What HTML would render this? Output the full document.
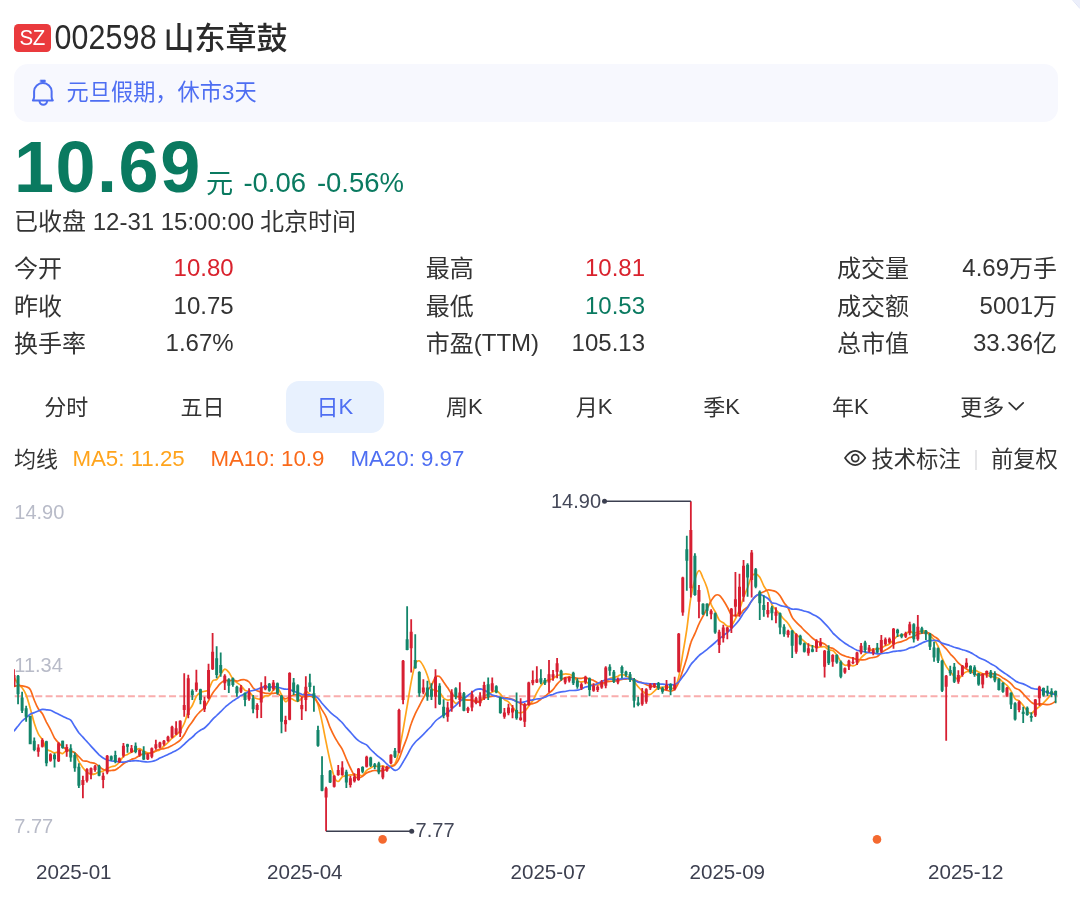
<!DOCTYPE html>
<html lang="zh-CN"><head><meta charset="utf-8"><title>002598 山东章鼓</title>
<style>
html,body{margin:0;padding:0;background:#fff}
body{width:1080px;height:912px;position:relative;overflow:hidden;font-family:"Liberation Sans", "Noto Sans CJK SC", sans-serif;-webkit-font-smoothing:antialiased}
#app{position:absolute;left:0;top:0;width:1080px;height:912px;will-change:transform}
.t{position:absolute;white-space:nowrap;font-family:"Liberation Sans", "Noto Sans CJK SC", sans-serif}
.abs{position:absolute;display:block}
.badge{position:absolute;left:14px;top:24px;width:36.6px;height:27.5px;border-radius:4.5px;background:#ea3a3d;color:#fff;font-size:20.5px;line-height:27.5px;text-align:center;letter-spacing:-0.2px}
.badge span{display:inline-block;transform:translateY(-0.9px) scaleY(1.09)}
.notice{position:absolute;left:14px;top:63.5px;width:1043.5px;height:58px;border-radius:14px;background:#f7f8fe}
.pill{position:absolute;left:286.2px;top:381.2px;width:97.6px;height:51.4px;border-radius:13px;background:#e8f1fe}
.sep{position:absolute;left:975px;top:449.5px;width:1.5px;height:20px;background:#e6e6e8}
</style></head>
<body>
<div id="app">
<div class="badge"><span>SZ</span></div>
<div class="t" style="left:54.40px;top:22.52px;font-size:30.4px;line-height:30.4px;color:#2b2b2b;letter-spacing:0.15px;transform:scaleY(1.15);transform-origin:0 84.65%;">002598</div>
<div class="t" style="left:163.60px;top:22.60px;font-size:31px;line-height:31px;color:#2b2b2b;font-weight:500;">山东章鼓</div>
<div class="notice"></div>
<svg class="abs" style="left:24px;top:72px" width="40" height="40" viewBox="24 72 40 40" fill="none" stroke="#4e6ef2" stroke-width="2" stroke-linecap="round" stroke-linejoin="round">
<path d="M32.9 100.5 C33.5 99.5 34.1 98.5 34.1 97 L34.1 91.3 A8.77 8.55 0 0 1 51.63 91.3 L51.63 97 C51.63 98.5 52.2 99.5 52.83 100.5 Z"/>
<rect x="40.6" y="80" width="4.7" height="2.2" fill="#4e6ef2" stroke-width="0.6"/>
<path d="M39.57 101.3 A3.73 3.4 0 0 0 47.03 101.3"/>
</svg>
<div class="t" style="left:66.60px;top:82.34px;font-size:22.2px;line-height:22.2px;color:#4e6ef2;">元旦假期，休市</div>
<div class="t" style="left:222.00px;top:82.41px;font-size:22.2px;line-height:22.2px;color:#4e6ef2;">3</div>
<div class="t" style="left:234.60px;top:82.34px;font-size:22.2px;line-height:22.2px;color:#4e6ef2;">天</div>
<div class="t" style="left:14.00px;top:131.05px;font-size:72px;line-height:72px;color:#0a7a60;font-weight:bold;letter-spacing:1.5px;">10.69</div>
<div class="t" style="left:205.90px;top:169.91px;font-size:27.2px;line-height:27.2px;color:#0a7a60;">元</div>
<div class="t" style="left:243.40px;top:169.12px;font-size:27.5px;line-height:27.5px;color:#0a7a60;">-0.06</div>
<div class="t" style="left:316.90px;top:169.12px;font-size:27.5px;line-height:27.5px;color:#0a7a60;">-0.56%</div>
<div class="t" style="left:14.00px;top:210.40px;font-size:24px;line-height:24px;color:#333333;">已收盘</div>
<div class="t" style="left:92.70px;top:209.88px;font-size:24px;line-height:24px;color:#333333;">12-31 15:00:00</div>
<div class="t" style="left:260.00px;top:210.40px;font-size:24px;line-height:24px;color:#333333;">北京时间</div>
<div class="t" style="left:14.00px;top:257.10px;font-size:24px;line-height:24px;color:#333333;">今开</div>
<div class="t" style="left:14.00px;top:294.70px;font-size:24px;line-height:24px;color:#333333;">昨收</div>
<div class="t" style="left:14.00px;top:332.20px;font-size:24px;line-height:24px;color:#333333;">换手率</div>
<div class="t" style="left:425.80px;top:257.10px;font-size:24px;line-height:24px;color:#333333;">最高</div>
<div class="t" style="left:425.80px;top:294.70px;font-size:24px;line-height:24px;color:#333333;">最低</div>
<div class="t" style="left:425.80px;top:332.20px;font-size:24px;line-height:24px;color:#333333;">市盈</div>
<div class="t" style="left:836.90px;top:257.10px;font-size:24px;line-height:24px;color:#333333;">成交量</div>
<div class="t" style="left:836.90px;top:294.70px;font-size:24px;line-height:24px;color:#333333;">成交额</div>
<div class="t" style="left:836.90px;top:332.20px;font-size:24px;line-height:24px;color:#333333;">总市值</div>
<div class="t" style="left:473.80px;top:331.38px;font-size:24px;line-height:24px;color:#333333;">(TTM)</div>
<div class="t" style="right:846.40px;top:256.28px;font-size:24px;line-height:24px;color:#d9222d;">10.80</div>
<div class="t" style="right:846.40px;top:293.88px;font-size:24px;line-height:24px;color:#333333;">10.75</div>
<div class="t" style="right:846.40px;top:331.38px;font-size:24px;line-height:24px;color:#333333;">1.67%</div>
<div class="t" style="right:435.00px;top:256.28px;font-size:24px;line-height:24px;color:#d9222d;">10.81</div>
<div class="t" style="right:435.00px;top:293.88px;font-size:24px;line-height:24px;color:#0a7a60;">10.53</div>
<div class="t" style="right:435.00px;top:331.38px;font-size:24px;line-height:24px;color:#333333;">105.13</div>
<div class="t" style="left:1009.00px;top:257.10px;font-size:24px;line-height:24px;color:#333333;">万手</div>
<div class="t" style="right:71.00px;top:256.28px;font-size:24px;line-height:24px;color:#333333;">4.69</div>
<div class="t" style="left:1033.00px;top:294.70px;font-size:24px;line-height:24px;color:#333333;">万</div>
<div class="t" style="right:47.00px;top:293.88px;font-size:24px;line-height:24px;color:#333333;">5001</div>
<div class="t" style="left:1033.00px;top:332.20px;font-size:24px;line-height:24px;color:#333333;">亿</div>
<div class="t" style="right:47.00px;top:331.38px;font-size:24px;line-height:24px;color:#333333;">33.36</div>
<div class="pill"></div>
<div class="t" style="left:44.25px;top:396.94px;font-size:22px;line-height:22px;color:#333333;">分时</div>
<div class="t" style="left:180.50px;top:396.94px;font-size:22px;line-height:22px;color:#333333;">五日</div>
<div class="t" style="left:316.47px;top:396.94px;font-size:22px;line-height:22px;color:#4e6ef2;">日</div>
<div class="t" style="left:338.47px;top:396.38px;font-size:22px;line-height:22px;color:#4e6ef2;">K</div>
<div class="t" style="left:446.06px;top:396.94px;font-size:22px;line-height:22px;color:#333333;">周</div>
<div class="t" style="left:468.06px;top:396.38px;font-size:22px;line-height:22px;color:#333333;">K</div>
<div class="t" style="left:575.66px;top:396.94px;font-size:22px;line-height:22px;color:#333333;">月</div>
<div class="t" style="left:597.66px;top:396.38px;font-size:22px;line-height:22px;color:#333333;">K</div>
<div class="t" style="left:703.26px;top:396.94px;font-size:22px;line-height:22px;color:#333333;">季</div>
<div class="t" style="left:725.26px;top:396.38px;font-size:22px;line-height:22px;color:#333333;">K</div>
<div class="t" style="left:832.06px;top:396.94px;font-size:22px;line-height:22px;color:#333333;">年</div>
<div class="t" style="left:854.06px;top:396.38px;font-size:22px;line-height:22px;color:#333333;">K</div>
<div class="t" style="left:960.20px;top:396.94px;font-size:22px;line-height:22px;color:#333333;">更多</div>
<svg class="abs" style="left:1006px;top:399px" width="20" height="14" viewBox="0 0 20 14" fill="none" stroke="#333" stroke-width="1.7" stroke-linecap="round" stroke-linejoin="round"><path d="M3.2 3.8 L10.2 10.6 L17.2 3.8"/></svg>
<div class="t" style="left:14.00px;top:449.04px;font-size:22px;line-height:22px;color:#333333;">均线</div>
<div class="t" style="left:72.40px;top:448.32px;font-size:22.3px;line-height:22.3px;color:#ffa41c;">MA5: 11.25</div>
<div class="t" style="left:210.40px;top:448.32px;font-size:22.3px;line-height:22.3px;color:#fa6a1a;">MA10: 10.9</div>
<div class="t" style="left:350.40px;top:448.32px;font-size:22.3px;line-height:22.3px;color:#4e6ef2;">MA20: 9.97</div>
<svg class="abs" style="left:836px;top:440px" width="40" height="40" viewBox="836 440 40 40" fill="none" stroke="#333" stroke-width="1.75" stroke-linejoin="round">
<path d="M845 458.07C847.62 454.25 851.13 450.96 855.17 450.96C859.2 450.96 862.72 454.25 865.34 458.07C862.72 461.9 859.2 465.18 855.17 465.18C851.13 465.18 847.62 461.9 845 458.07Z"/>
<circle cx="855.2" cy="458.07" r="3.5"/>
</svg>
<div class="t" style="left:871.50px;top:448.95px;font-size:22.3px;line-height:22.3px;color:#333333;">技术标注</div>
<div class="sep"></div>
<div class="t" style="left:991.00px;top:448.95px;font-size:22.3px;line-height:22.3px;color:#333333;">前复权</div>
<svg class="abs" style="left:1060px;top:0" width="20" height="12" viewBox="1060 0 20 12"><path d="M1073.2 0L1080 0L1080 8Z" fill="#eceffb"/><path d="M1072.6 0L1080 8.6" stroke="#dfe4f6" stroke-width="1" fill="none"/></svg>
<svg class="abs" style="left:0;top:0" width="1080" height="912" viewBox="0 0 1080 912"><defs><clipPath id="cp"><rect x="14" y="490" width="1044" height="360"/></clipPath></defs><line x1="14.7" y1="696.2" x2="1057.8" y2="696.2" stroke="#f9adad" stroke-width="2" stroke-dasharray="7 3.29"/><g clip-path="url(#cp)"><path fill="none" stroke="#ffa41c" stroke-width="1.7" stroke-linejoin="round" stroke-linecap="round" d="M14.0 677.2C14.7 678.3 16.7 682.1 18.1 683.8C19.4 685.6 20.8 685.9 22.1 687.8C23.5 689.7 24.8 691.7 26.2 695.1C27.5 698.5 28.9 703.5 30.2 708.2C31.6 712.8 32.9 718.9 34.3 723.2C35.6 727.4 37.0 731.1 38.3 733.8C39.7 736.6 41.0 737.1 42.4 739.7C43.7 742.2 45.1 747.1 46.4 749.0C47.8 750.9 49.1 750.4 50.5 751.0C51.8 751.6 53.2 752.7 54.5 752.8C55.9 753.0 57.2 751.9 58.6 752.0C59.9 752.1 61.3 753.9 62.6 753.6C64.0 753.3 65.3 750.8 66.7 750.3C68.0 749.9 69.4 750.6 70.7 751.0C72.1 751.4 73.4 751.1 74.8 752.8C76.1 754.6 77.5 758.9 78.8 761.3C80.2 763.8 81.5 765.9 82.9 767.7C84.3 769.5 85.6 771.1 87.0 772.2C88.3 773.3 89.7 774.0 91.0 774.3C92.4 774.6 93.7 774.3 95.1 773.9C96.4 773.5 97.8 772.4 99.1 771.9C100.5 771.5 101.8 771.7 103.2 771.1C104.5 770.5 105.9 769.2 107.2 768.4C108.6 767.7 109.9 767.1 111.3 766.7C112.6 766.3 114.0 766.5 115.3 765.8C116.7 765.0 118.0 763.9 119.4 762.3C120.7 760.7 122.1 757.6 123.4 756.3C124.8 755.0 126.1 755.1 127.5 754.4C128.8 753.8 130.2 752.9 131.5 752.2C132.9 751.5 134.2 750.8 135.6 750.2C136.9 749.6 138.3 748.4 139.6 748.6C141.0 748.7 142.3 750.6 143.7 751.3C145.0 752.0 146.4 752.5 147.7 752.8C149.1 753.0 150.5 753.1 151.8 752.8C153.2 752.5 154.5 751.7 155.9 751.2C157.2 750.7 158.6 750.6 159.9 749.7C161.3 748.9 162.6 747.2 164.0 746.0C165.3 744.8 166.7 743.8 168.0 742.5C169.4 741.2 170.7 739.4 172.1 738.2C173.4 736.9 174.8 736.2 176.1 735.0C177.5 733.8 178.8 732.6 180.2 730.7C181.5 728.8 182.9 726.6 184.2 723.5C185.6 720.4 186.9 714.8 188.3 711.8C189.6 708.8 191.0 708.1 192.3 705.5C193.7 702.9 195.0 698.6 196.4 696.3C197.7 694.1 199.1 693.0 200.4 692.2C201.8 691.3 203.1 691.8 204.5 691.3C205.8 690.9 207.2 691.4 208.5 689.7C209.9 687.9 211.2 682.7 212.6 681.0C213.9 679.3 215.3 680.6 216.7 679.5C218.0 678.4 219.4 675.9 220.7 674.2C222.1 672.4 223.4 669.5 224.8 669.2C226.1 668.9 227.5 670.7 228.8 672.3C230.2 674.0 231.5 677.3 232.9 679.0C234.2 680.7 235.6 681.6 236.9 682.7C238.3 683.8 239.6 684.2 241.0 685.5C242.3 686.8 243.7 689.3 245.0 690.3C246.4 691.4 247.7 690.6 249.1 691.7C250.4 692.7 251.8 695.3 253.1 696.5C254.5 697.7 255.8 698.4 257.2 698.8C258.5 699.2 259.9 699.3 261.2 698.8C262.6 698.3 263.9 696.4 265.3 695.8C266.6 695.3 268.0 696.4 269.3 695.5C270.7 694.6 272.0 691.4 273.4 690.2C274.7 688.9 276.1 687.1 277.4 687.8C278.8 688.6 280.1 692.4 281.5 694.7C282.8 697.0 284.2 701.1 285.6 701.7C286.9 702.2 288.3 698.4 289.6 698.1C291.0 697.8 292.3 699.4 293.7 699.9C295.0 700.5 296.4 701.7 297.7 701.4C299.1 701.1 300.4 699.8 301.8 698.1C303.1 696.4 304.5 692.1 305.8 691.4C307.2 690.8 308.5 693.5 309.9 694.2C311.2 694.9 312.6 693.8 313.9 695.6C315.3 697.3 316.6 700.2 318.0 704.6C319.3 708.9 320.7 715.5 322.0 721.7C323.4 728.0 324.7 735.5 326.1 742.1C327.4 748.6 328.8 755.4 330.1 761.2C331.5 766.9 332.8 773.3 334.2 776.7C335.5 780.1 336.9 781.5 338.2 781.5C339.6 781.5 340.9 777.8 342.3 776.8C343.6 775.9 345.0 776.0 346.3 775.7C347.7 775.3 349.0 774.9 350.4 774.8C351.8 774.7 353.1 775.0 354.5 775.0C355.8 775.0 357.2 774.6 358.5 774.7C359.9 774.8 361.2 776.3 362.6 775.6C363.9 774.8 365.3 771.7 366.6 770.4C368.0 769.1 369.3 768.6 370.7 767.9C372.0 767.2 373.4 766.2 374.7 766.0C376.1 765.8 377.4 766.7 378.8 766.7C380.1 766.7 381.5 765.7 382.8 765.9C384.2 766.1 385.5 767.9 386.9 767.9C388.2 767.9 389.6 766.4 390.9 765.7C392.3 764.9 393.6 766.0 395.0 763.6C396.3 761.2 397.7 756.7 399.0 751.1C400.4 745.5 401.7 737.2 403.1 729.8C404.4 722.3 405.8 714.4 407.1 706.4C408.5 698.4 409.8 688.9 411.2 681.8C412.5 674.8 413.9 667.7 415.2 664.2C416.6 660.7 417.9 660.5 419.3 660.8C420.7 661.2 422.0 663.7 423.4 666.2C424.7 668.6 426.1 671.8 427.4 675.5C428.8 679.2 430.1 686.1 431.5 688.5C432.8 690.9 434.2 689.5 435.5 690.2C436.9 690.8 438.2 691.0 439.6 692.3C440.9 693.6 442.3 696.7 443.6 698.0C445.0 699.3 446.3 699.9 447.7 700.2C449.0 700.4 450.4 698.8 451.7 699.3C453.1 699.9 454.4 703.1 455.8 703.3C457.1 703.6 458.5 701.6 459.8 701.0C461.2 700.4 462.5 700.1 463.9 700.0C465.2 699.9 466.6 700.0 467.9 700.1C469.3 700.2 470.6 700.3 472.0 700.4C473.3 700.5 474.7 700.6 476.0 700.8C477.4 701.0 478.7 702.3 480.1 701.6C481.4 700.9 482.8 697.7 484.1 696.4C485.5 695.2 486.8 694.9 488.2 694.2C489.6 693.4 490.9 692.6 492.3 692.0C493.6 691.4 495.0 690.5 496.3 690.8C497.7 691.2 499.0 692.6 500.4 694.1C501.7 695.6 503.1 698.3 504.4 699.6C505.8 700.9 507.1 700.6 508.5 701.8C509.8 703.0 511.2 705.1 512.5 706.8C513.9 708.5 515.2 710.9 516.6 711.9C517.9 712.9 519.3 713.0 520.6 712.8C522.0 712.7 523.3 712.3 524.7 711.2C526.0 710.1 527.4 707.9 528.7 706.2C530.1 704.4 531.4 702.8 532.8 700.5C534.1 698.2 535.5 695.1 536.8 692.7C538.2 690.2 539.5 687.5 540.9 685.7C542.2 683.8 543.6 682.5 544.9 681.5C546.3 680.5 547.6 680.3 549.0 679.8C550.3 679.4 551.7 679.4 553.0 678.7C554.4 677.9 555.8 676.1 557.1 675.5C558.5 674.9 559.8 675.1 561.2 674.8C562.5 674.5 563.9 673.8 565.2 673.8C566.6 673.7 567.9 674.0 569.3 674.4C570.6 674.8 572.0 675.1 573.3 676.2C574.7 677.3 576.0 679.9 577.4 680.9C578.7 681.8 580.1 681.7 581.4 681.9C582.8 682.0 584.1 681.2 585.5 681.6C586.8 682.0 588.2 683.7 589.5 684.2C590.9 684.7 592.2 684.6 593.6 684.7C594.9 684.8 596.3 684.8 597.6 684.7C599.0 684.6 600.3 684.6 601.7 684.2C603.0 683.8 604.4 683.3 605.7 682.3C607.1 681.4 608.4 679.3 609.8 678.5C611.1 677.7 612.5 678.1 613.8 677.7C615.2 677.3 616.5 676.7 617.9 676.2C619.2 675.6 620.6 674.5 622.0 674.5C623.3 674.5 624.7 675.4 626.0 676.0C627.4 676.6 628.7 676.9 630.1 677.8C631.4 678.8 632.8 680.2 634.1 681.7C635.5 683.2 636.8 685.3 638.2 686.8C639.5 688.4 640.9 689.7 642.2 690.8C643.6 692.0 644.9 693.1 646.3 693.7C647.6 694.3 649.0 694.9 650.3 694.5C651.7 694.1 653.0 692.2 654.4 691.1C655.7 690.0 657.1 688.4 658.4 687.8C659.8 687.2 661.1 687.6 662.5 687.4C663.8 687.2 665.2 686.5 666.5 686.6C667.9 686.7 669.2 687.5 670.6 687.8C671.9 688.0 673.3 689.8 674.6 688.0C676.0 686.2 677.3 682.7 678.7 677.1C680.0 671.4 681.4 662.2 682.7 654.2C684.1 646.3 685.4 638.9 686.8 629.4C688.1 619.9 689.5 605.7 690.9 597.4C692.2 589.1 693.6 583.9 694.9 579.4C696.3 574.9 697.6 570.9 699.0 570.7C700.3 570.4 701.7 575.1 703.0 578.0C704.4 580.9 705.7 583.6 707.1 588.0C708.4 592.4 709.8 600.2 711.1 604.2C712.5 608.1 713.8 609.0 715.2 611.7C716.5 614.3 717.9 618.2 719.2 620.0C720.6 621.8 721.9 621.7 723.3 622.7C724.6 623.7 726.0 625.5 727.3 626.0C728.7 626.5 730.0 626.8 731.4 625.6C732.7 624.4 734.1 621.5 735.4 618.9C736.8 616.3 738.1 613.5 739.5 609.9C740.8 606.3 742.2 601.3 743.5 597.6C744.9 593.8 746.2 591.1 747.6 587.6C748.9 584.0 750.3 578.6 751.6 576.3C753.0 574.0 754.3 573.7 755.7 573.8C757.0 574.0 758.4 575.1 759.8 577.2C761.1 579.2 762.5 583.4 763.8 586.0C765.2 588.6 766.5 589.4 767.9 592.5C769.2 595.6 770.6 601.8 771.9 604.7C773.3 607.5 774.6 608.0 776.0 609.7C777.3 611.3 778.7 612.9 780.0 614.5C781.4 616.1 782.7 617.8 784.1 619.3C785.4 620.8 786.8 621.7 788.1 623.5C789.5 625.3 790.8 628.2 792.2 630.0C793.5 631.8 794.9 633.2 796.2 634.5C797.6 635.8 798.9 636.7 800.3 637.8C801.6 639.0 803.0 640.2 804.3 641.3C805.7 642.5 807.0 644.1 808.4 644.8C809.7 645.6 811.1 645.6 812.4 646.0C813.8 646.4 815.1 647.2 816.5 647.3C817.8 647.5 819.2 647.1 820.5 647.0C821.9 646.9 823.2 646.4 824.6 646.8C826.0 647.3 827.3 649.2 828.7 649.8C830.0 650.4 831.4 649.7 832.7 650.5C834.1 651.3 835.4 653.0 836.8 654.8C838.1 656.7 839.5 659.9 840.8 661.7C842.2 663.4 843.5 664.7 844.9 665.2C846.2 665.7 847.6 664.5 848.9 664.7C850.3 664.8 851.6 666.1 853.0 666.0C854.3 665.9 855.7 665.4 857.0 664.0C858.4 662.6 859.7 659.5 861.1 657.8C862.4 656.2 863.8 655.2 865.1 654.2C866.5 653.1 867.8 652.3 869.2 651.5C870.5 650.7 871.9 649.5 873.2 649.1C874.6 648.7 875.9 649.3 877.3 649.1C878.6 648.9 880.0 648.5 881.3 647.9C882.7 647.4 884.0 646.4 885.4 645.8C886.7 645.1 888.1 645.0 889.4 644.0C890.8 643.0 892.1 641.1 893.5 639.8C894.9 638.5 896.2 636.7 897.6 636.0C898.9 635.2 900.3 635.6 901.6 635.3C903.0 635.0 904.3 634.8 905.7 634.1C907.0 633.5 908.4 631.4 909.7 631.2C911.1 631.1 912.4 633.2 913.8 633.3C915.1 633.5 916.5 632.4 917.8 632.0C919.2 631.6 920.5 631.3 921.9 631.2C923.2 631.1 924.6 630.6 925.9 631.3C927.3 632.1 928.6 634.5 930.0 635.8C931.3 637.2 932.7 637.8 934.0 639.5C935.4 641.2 936.7 643.2 938.1 646.3C939.4 649.4 940.8 654.7 942.1 658.0C943.5 661.3 944.8 664.1 946.2 666.3C947.5 668.6 948.9 670.0 950.2 671.7C951.6 673.4 952.9 675.2 954.3 676.5C955.6 677.8 957.0 679.7 958.3 679.3C959.7 679.0 961.1 675.6 962.4 674.3C963.8 673.1 965.1 672.2 966.5 671.7C967.8 671.2 969.2 671.8 970.5 671.5C971.9 671.2 973.2 670.1 974.6 670.2C975.9 670.3 977.3 671.5 978.6 672.1C980.0 672.6 981.3 673.1 982.7 673.7C984.0 674.2 985.4 674.9 986.7 675.3C988.1 675.8 989.4 676.0 990.8 676.3C992.1 676.7 993.5 677.1 994.8 677.4C996.2 677.8 997.5 677.8 998.9 678.6C1000.2 679.3 1001.6 681.0 1002.9 682.1C1004.3 683.3 1005.6 684.0 1007.0 685.4C1008.3 686.9 1009.7 688.7 1011.0 690.9C1012.4 693.1 1013.7 697.0 1015.1 698.7C1016.4 700.4 1017.8 699.9 1019.1 701.0C1020.5 702.1 1021.8 703.8 1023.2 705.4C1024.5 707.1 1025.9 709.5 1027.2 710.9C1028.6 712.2 1030.0 713.8 1031.3 713.6C1032.7 713.3 1034.0 710.7 1035.4 709.6C1036.7 708.4 1038.1 707.7 1039.4 706.6C1040.8 705.4 1042.1 704.2 1043.5 702.9C1044.8 701.6 1046.2 700.1 1047.5 698.6C1048.9 697.1 1050.2 694.8 1051.6 693.9C1052.9 693.0 1054.9 693.2 1055.6 693.1"/><path fill="none" stroke="#fa6a1a" stroke-width="1.7" stroke-linejoin="round" stroke-linecap="round" d="M14.0 686.4C14.7 686.3 16.7 685.6 18.1 685.5C19.4 685.4 20.8 685.6 22.1 685.8C23.5 686.0 24.8 686.2 26.2 686.8C27.5 687.4 28.9 687.2 30.2 689.5C31.6 691.7 32.9 697.0 34.3 700.2C35.6 703.4 37.0 706.6 38.3 708.8C39.7 711.1 41.0 711.5 42.4 713.7C43.7 715.9 45.1 719.4 46.4 722.1C47.8 724.7 49.1 726.9 50.5 729.6C51.8 732.2 53.2 735.8 54.5 738.0C55.9 740.2 57.2 741.5 58.6 742.9C59.9 744.4 61.3 745.5 62.6 746.6C64.0 747.8 65.3 748.9 66.7 749.7C68.0 750.4 69.4 750.5 70.7 751.0C72.1 751.5 73.4 751.9 74.8 752.8C76.1 753.8 77.5 755.4 78.8 756.7C80.2 758.0 81.5 759.9 82.9 760.7C84.3 761.4 85.6 760.9 87.0 761.2C88.3 761.6 89.7 762.3 91.0 762.7C92.4 763.0 93.7 762.7 95.1 763.4C96.4 764.0 97.8 765.6 99.1 766.6C100.5 767.6 101.8 768.8 103.2 769.4C104.5 770.0 105.9 770.1 107.2 770.3C108.6 770.5 109.9 770.6 111.3 770.5C112.6 770.4 114.0 770.4 115.3 769.9C116.7 769.3 118.0 768.1 119.4 767.1C120.7 766.1 122.1 764.6 123.4 763.7C124.8 762.7 126.1 762.1 127.5 761.4C128.8 760.7 130.2 760.0 131.5 759.4C132.9 758.9 134.2 758.7 135.6 758.0C136.9 757.3 138.3 756.1 139.6 755.4C141.0 754.7 142.3 754.1 143.7 753.8C145.0 753.5 146.4 753.8 147.7 753.6C149.1 753.4 150.5 753.0 151.8 752.5C153.2 752.0 154.5 751.3 155.9 750.7C157.2 750.2 158.6 749.5 159.9 749.1C161.3 748.8 162.6 748.9 164.0 748.6C165.3 748.4 166.7 748.2 168.0 747.6C169.4 747.1 170.7 746.2 172.1 745.5C173.4 744.7 174.8 744.0 176.1 743.1C177.5 742.2 178.8 741.6 180.2 740.2C181.5 738.8 182.9 736.9 184.2 734.8C185.6 732.6 186.9 729.3 188.3 727.2C189.6 725.0 191.0 723.7 192.3 721.8C193.7 719.9 195.0 717.4 196.4 715.7C197.7 713.9 199.1 712.8 200.4 711.4C201.8 710.0 203.1 709.2 204.5 707.4C205.8 705.6 207.2 703.1 208.5 700.8C209.9 698.4 211.2 695.4 212.6 693.2C213.9 691.1 215.3 689.6 216.7 687.9C218.0 686.2 219.4 684.4 220.7 683.2C222.1 681.9 223.4 680.6 224.8 680.2C226.1 679.9 227.5 681.0 228.8 681.0C230.2 681.0 231.5 680.0 232.9 680.0C234.2 680.0 235.6 681.1 236.9 681.1C238.3 681.1 239.6 680.1 241.0 679.8C242.3 679.6 243.7 679.4 245.0 679.8C246.4 680.1 247.7 680.7 249.1 682.0C250.4 683.3 251.8 686.3 253.1 687.8C254.5 689.2 255.8 690.0 257.2 690.8C258.5 691.5 259.9 691.8 261.2 692.2C262.6 692.6 263.9 692.8 265.3 693.1C266.6 693.3 268.0 693.5 269.3 693.6C270.7 693.6 272.0 693.4 273.4 693.3C274.7 693.3 276.1 692.8 277.4 693.3C278.8 693.9 280.1 695.8 281.5 696.8C282.8 697.7 284.2 698.7 285.6 698.8C286.9 698.8 288.3 697.4 289.6 696.8C291.0 696.2 292.3 695.4 293.7 695.0C295.0 694.7 296.4 694.4 297.7 694.6C299.1 694.9 300.4 696.1 301.8 696.4C303.1 696.7 304.5 696.6 305.8 696.5C307.2 696.5 308.5 696.0 309.9 696.2C311.2 696.4 312.6 696.6 313.9 697.8C315.3 698.9 316.6 701.0 318.0 703.0C319.3 705.0 320.7 707.6 322.0 709.9C323.4 712.2 324.7 713.8 326.1 716.8C327.4 719.7 328.8 724.5 330.1 727.7C331.5 730.9 332.8 733.6 334.2 736.1C335.5 738.7 336.9 740.8 338.2 743.0C339.6 745.2 340.9 746.6 342.3 749.3C343.6 751.9 345.0 755.7 346.3 758.9C347.7 762.0 349.0 765.2 350.4 768.0C351.8 770.8 353.1 774.1 354.5 775.8C355.8 777.5 357.2 778.1 358.5 778.1C359.9 778.2 361.2 777.0 362.6 776.2C363.9 775.4 365.3 773.8 366.6 773.0C368.0 772.2 369.3 771.8 370.7 771.4C372.0 770.9 373.4 770.6 374.7 770.5C376.1 770.4 377.4 770.7 378.8 770.7C380.1 770.8 381.5 771.0 382.8 770.7C384.2 770.5 385.5 769.8 386.9 769.1C388.2 768.5 389.6 767.5 390.9 766.8C392.3 766.1 393.6 766.1 395.0 764.8C396.3 763.5 397.7 761.7 399.0 758.9C400.4 756.1 401.7 751.5 403.1 747.8C404.4 744.2 405.8 741.2 407.1 737.2C408.5 733.2 409.8 727.6 411.2 723.8C412.5 719.9 413.9 716.8 415.2 713.9C416.6 710.9 417.9 708.6 419.3 706.0C420.7 703.3 422.0 700.5 423.4 698.0C424.7 695.5 426.1 693.1 427.4 691.0C428.8 688.8 430.1 687.5 431.5 685.2C432.8 682.9 434.2 678.6 435.5 677.2C436.9 675.7 438.2 675.8 439.6 676.6C440.9 677.4 442.3 680.2 443.6 682.1C445.0 684.0 446.3 685.9 447.7 687.8C449.0 689.8 450.4 692.4 451.7 693.9C453.1 695.4 454.4 696.3 455.8 696.8C457.1 697.2 458.5 696.3 459.8 696.7C461.2 697.0 462.5 698.4 463.9 699.0C465.2 699.6 466.6 700.0 467.9 700.1C469.3 700.3 470.6 699.6 472.0 699.9C473.3 700.2 474.7 701.8 476.0 702.0C477.4 702.3 478.7 701.9 480.1 701.3C481.4 700.7 482.8 698.9 484.1 698.2C485.5 697.5 486.8 697.5 488.2 697.1C489.6 696.8 490.9 696.4 492.3 696.2C493.6 696.0 495.0 695.5 496.3 695.8C497.7 696.1 499.0 697.5 500.4 697.9C501.7 698.2 503.1 698.0 504.4 698.0C505.8 698.0 507.1 697.7 508.5 698.0C509.8 698.2 511.2 698.8 512.5 699.4C513.9 700.0 515.2 700.7 516.6 701.4C517.9 702.1 519.3 702.8 520.6 703.5C522.0 704.1 523.3 705.3 524.7 705.4C526.0 705.5 527.4 704.3 528.7 704.0C530.1 703.7 531.4 703.9 532.8 703.6C534.1 703.4 535.5 703.0 536.8 702.3C538.2 701.6 539.5 700.2 540.9 699.2C542.2 698.3 543.6 697.4 544.9 696.3C546.3 695.3 547.6 694.1 549.0 693.0C550.3 691.9 551.7 691.1 553.0 689.6C554.4 688.1 555.8 685.6 557.1 684.1C558.5 682.5 559.8 681.3 561.2 680.2C562.5 679.2 563.9 678.2 565.2 677.6C566.6 677.1 567.9 677.1 569.3 677.1C570.6 677.1 572.0 677.3 573.3 677.4C574.7 677.6 576.0 678.0 577.4 678.2C578.7 678.3 580.1 678.4 581.4 678.4C582.8 678.3 584.1 677.5 585.5 677.7C586.8 677.8 588.2 678.8 589.5 679.3C590.9 679.7 592.2 679.8 593.6 680.4C594.9 681.0 596.3 682.3 597.6 682.8C599.0 683.2 600.3 683.1 601.7 683.0C603.0 682.9 604.4 682.2 605.7 682.0C607.1 681.7 608.4 681.5 609.8 681.3C611.1 681.2 612.5 681.3 613.8 681.2C615.2 681.0 616.5 680.7 617.9 680.4C619.2 680.1 620.6 679.5 622.0 679.3C623.3 679.1 624.7 679.4 626.0 679.2C627.4 679.0 628.7 678.1 630.1 678.2C631.4 678.3 632.8 679.1 634.1 679.7C635.5 680.2 636.8 681.0 638.2 681.5C639.5 682.0 640.9 682.1 642.2 682.7C643.6 683.2 644.9 684.2 646.3 684.8C647.6 685.4 649.0 685.9 650.3 686.2C651.7 686.4 653.0 686.2 654.4 686.4C655.7 686.6 657.1 686.8 658.4 687.3C659.8 687.8 661.1 688.7 662.5 689.1C663.8 689.6 665.2 689.8 666.5 690.1C667.9 690.5 669.2 691.2 670.6 691.1C671.9 691.0 673.3 691.0 674.6 689.5C676.0 688.1 677.3 685.5 678.7 682.4C680.0 679.3 681.4 674.9 682.7 670.8C684.1 666.8 685.4 662.7 686.8 658.0C688.1 653.3 689.5 646.6 690.9 642.6C692.2 638.5 693.6 636.8 694.9 633.7C696.3 630.6 697.6 626.8 699.0 623.9C700.3 620.9 701.7 618.6 703.0 616.1C704.4 613.6 705.7 611.3 707.1 608.7C708.4 606.1 709.8 603.0 711.1 600.8C712.5 598.6 713.8 596.4 715.2 595.5C716.5 594.6 717.9 594.5 719.2 595.3C720.6 596.1 721.9 598.4 723.3 600.3C724.6 602.3 726.0 604.6 727.3 607.0C728.7 609.4 730.0 613.5 731.4 614.9C732.7 616.2 734.1 615.3 735.4 615.3C736.8 615.3 738.1 615.8 739.5 615.0C740.8 614.1 742.2 611.5 743.5 610.1C744.9 608.8 746.2 608.3 747.6 606.8C748.9 605.3 750.3 602.7 751.6 601.0C753.0 599.2 754.3 597.6 755.7 596.4C757.0 595.1 758.4 594.3 759.8 593.5C761.1 592.8 762.5 592.4 763.8 591.8C765.2 591.2 766.5 590.2 767.9 590.0C769.2 589.8 770.6 590.2 771.9 590.5C773.3 590.8 774.6 590.9 776.0 591.8C777.3 592.6 778.7 594.0 780.0 595.8C781.4 597.7 782.7 600.6 784.1 602.7C785.4 604.7 786.8 605.6 788.1 608.0C789.5 610.4 790.8 615.0 792.2 617.3C793.5 619.7 794.9 620.6 796.2 622.1C797.6 623.6 798.9 624.8 800.3 626.2C801.6 627.5 803.0 629.0 804.3 630.3C805.7 631.7 807.0 632.9 808.4 634.2C809.7 635.4 811.1 636.9 812.4 638.0C813.8 639.1 815.1 640.2 816.5 640.9C817.8 641.7 819.2 641.9 820.5 642.4C821.9 642.9 823.2 643.3 824.6 644.1C826.0 644.9 827.3 646.6 828.7 647.3C830.0 648.0 831.4 647.6 832.7 648.2C834.1 648.9 835.4 650.1 836.8 651.1C838.1 652.1 839.5 653.5 840.8 654.3C842.2 655.2 843.5 655.5 844.9 656.0C846.2 656.5 847.6 656.9 848.9 657.2C850.3 657.6 851.6 657.9 853.0 658.2C854.3 658.6 855.7 659.2 857.0 659.4C858.4 659.7 859.7 659.7 861.1 659.8C862.4 659.8 863.8 659.9 865.1 659.7C866.5 659.4 867.8 658.4 869.2 658.1C870.5 657.7 871.9 657.8 873.2 657.5C874.6 657.3 875.9 657.3 877.3 656.5C878.6 655.8 880.0 654.0 881.3 652.9C882.7 651.8 884.0 650.8 885.4 650.0C886.7 649.1 888.1 648.7 889.4 647.8C890.8 646.8 892.1 645.3 893.5 644.5C894.9 643.6 896.2 643.0 897.6 642.5C898.9 642.1 900.3 642.0 901.6 641.6C903.0 641.2 904.3 640.6 905.7 640.0C907.0 639.3 908.4 638.2 909.7 637.6C911.1 637.1 912.4 637.2 913.8 636.6C915.1 636.0 916.5 634.5 917.8 634.0C919.2 633.4 920.5 633.4 921.9 633.2C923.2 633.0 924.6 632.7 925.9 632.7C927.3 632.8 928.6 632.9 930.0 633.5C931.3 634.1 932.7 635.5 934.0 636.4C935.4 637.4 936.7 637.8 938.1 639.2C939.4 640.5 940.8 643.0 942.1 644.6C943.5 646.2 944.8 647.3 946.2 648.8C947.5 650.4 948.9 652.2 950.2 653.8C951.6 655.3 952.9 656.5 954.3 658.0C955.6 659.5 957.0 661.5 958.3 662.8C959.7 664.2 961.1 665.1 962.4 666.2C963.8 667.2 965.1 668.1 966.5 669.0C967.8 669.9 969.2 670.9 970.5 671.6C971.9 672.3 973.2 672.6 974.6 673.3C975.9 674.0 977.3 675.6 978.6 675.7C980.0 675.8 981.3 674.4 982.7 674.0C984.0 673.6 985.4 673.5 986.7 673.5C988.1 673.5 989.4 673.9 990.8 673.9C992.1 674.0 993.5 673.6 994.8 673.8C996.2 674.0 997.5 674.6 998.9 675.3C1000.2 676.0 1001.6 677.0 1002.9 677.9C1004.3 678.7 1005.6 679.4 1007.0 680.4C1008.3 681.3 1009.7 682.3 1011.0 683.6C1012.4 684.9 1013.7 687.0 1015.1 688.1C1016.4 689.1 1017.8 688.8 1019.1 689.8C1020.5 690.7 1021.8 692.4 1023.2 693.8C1024.5 695.2 1025.9 696.8 1027.2 698.2C1028.6 699.6 1030.0 701.2 1031.3 702.2C1032.7 703.2 1034.0 703.9 1035.4 704.1C1036.7 704.4 1038.1 703.8 1039.4 703.8C1040.8 703.8 1042.1 704.0 1043.5 704.2C1044.8 704.3 1046.2 704.8 1047.5 704.7C1048.9 704.6 1050.2 704.3 1051.6 703.7C1052.9 703.2 1054.9 701.7 1055.6 701.3"/><path fill="none" stroke="#4a6cf7" stroke-width="1.7" stroke-linejoin="round" stroke-linecap="round" d="M14.0 731.0C14.7 730.2 16.7 727.7 18.1 726.0C19.4 724.3 20.8 722.4 22.1 721.0C23.5 719.6 24.8 718.8 26.2 717.6C27.5 716.5 28.9 715.1 30.2 714.3C31.6 713.5 32.9 713.2 34.3 712.6C35.6 712.1 37.0 711.6 38.3 711.0C39.7 710.5 41.0 709.6 42.4 709.4C43.7 709.2 45.1 709.6 46.4 709.8C47.8 709.9 49.1 709.8 50.5 710.2C51.8 710.6 53.2 711.5 54.5 712.2C55.9 712.9 57.2 713.5 58.6 714.2C59.9 714.9 61.3 715.6 62.6 716.2C64.0 716.9 65.3 717.5 66.7 718.2C68.0 718.9 69.4 718.9 70.7 720.2C72.1 721.6 73.4 724.4 74.8 726.5C76.1 728.6 77.5 731.0 78.8 732.8C80.2 734.5 81.5 735.7 82.9 737.2C84.3 738.7 85.6 740.2 87.0 741.7C88.3 743.1 89.7 744.6 91.0 746.1C92.4 747.6 93.7 749.2 95.1 750.7C96.4 752.1 97.8 753.6 99.1 754.8C100.5 756.0 101.8 757.2 103.2 758.0C104.5 758.9 105.9 759.5 107.2 760.0C108.6 760.4 109.9 760.5 111.3 760.8C112.6 761.0 114.0 761.2 115.3 761.3C116.7 761.5 118.0 761.7 119.4 761.9C120.7 762.0 122.1 762.3 123.4 762.2C124.8 762.1 126.1 761.5 127.5 761.3C128.8 761.2 130.2 761.2 131.5 761.0C132.9 760.9 134.2 760.7 135.6 760.7C136.9 760.7 138.3 760.9 139.6 761.0C141.0 761.2 142.3 761.4 143.7 761.6C145.0 761.8 146.4 762.0 147.7 762.0C149.1 761.9 150.5 761.8 151.8 761.5C153.2 761.2 154.5 760.9 155.9 760.3C157.2 759.7 158.6 758.8 159.9 758.1C161.3 757.4 162.6 756.8 164.0 756.2C165.3 755.6 166.7 755.2 168.0 754.5C169.4 753.9 170.7 753.1 172.1 752.5C173.4 751.8 174.8 751.3 176.1 750.6C177.5 749.8 178.8 748.9 180.2 747.8C181.5 746.8 182.9 745.5 184.2 744.3C185.6 743.0 186.9 741.6 188.3 740.4C189.6 739.2 191.0 738.4 192.3 737.2C193.7 736.0 195.0 734.3 196.4 733.2C197.7 732.1 199.1 731.1 200.4 730.3C201.8 729.4 203.1 729.0 204.5 728.0C205.8 727.0 207.2 725.6 208.5 724.2C209.9 722.8 211.2 720.8 212.6 719.4C213.9 717.9 215.3 716.8 216.7 715.5C218.0 714.2 219.4 713.0 220.7 711.7C222.1 710.3 223.4 708.8 224.8 707.5C226.1 706.2 227.5 705.2 228.8 704.1C230.2 703.0 231.5 701.9 232.9 700.9C234.2 700.0 235.6 699.3 236.9 698.4C238.3 697.5 239.6 696.4 241.0 695.6C242.3 694.8 243.7 694.3 245.0 693.6C246.4 692.9 247.7 691.9 249.1 691.4C250.4 690.9 251.8 690.8 253.1 690.5C254.5 690.2 255.8 689.8 257.2 689.3C258.5 688.9 259.9 688.1 261.2 687.7C262.6 687.2 263.9 686.7 265.3 686.7C266.6 686.6 268.0 687.3 269.3 687.3C270.7 687.3 272.0 686.7 273.4 686.7C274.7 686.7 276.1 686.9 277.4 687.2C278.8 687.5 280.1 688.0 281.5 688.3C282.8 688.6 284.2 689.1 285.6 689.2C286.9 689.4 288.3 689.0 289.6 689.4C291.0 689.8 292.3 690.9 293.7 691.4C295.0 691.9 296.4 692.2 297.7 692.7C299.1 693.2 300.4 693.9 301.8 694.3C303.1 694.6 304.5 694.7 305.8 694.8C307.2 694.9 308.5 694.8 309.9 694.9C311.2 695.0 312.6 695.0 313.9 695.5C315.3 696.1 316.6 696.9 318.0 698.2C319.3 699.5 320.7 701.7 322.0 703.3C323.4 704.9 324.7 706.3 326.1 707.8C327.4 709.2 328.8 710.9 330.1 712.2C331.5 713.6 332.8 714.5 334.2 715.6C335.5 716.7 336.9 717.6 338.2 718.8C339.6 720.0 340.9 721.4 342.3 722.8C343.6 724.3 345.0 726.2 346.3 727.7C347.7 729.2 349.0 730.6 350.4 732.1C351.8 733.6 353.1 735.4 354.5 736.8C355.8 738.2 357.2 739.5 358.5 740.6C359.9 741.6 361.2 742.3 362.6 743.1C363.9 743.8 365.3 743.8 366.6 744.9C368.0 746.0 369.3 748.1 370.7 749.5C372.0 750.9 373.4 752.1 374.7 753.3C376.1 754.5 377.4 755.8 378.8 756.9C380.1 758.0 381.5 758.8 382.8 760.0C384.2 761.2 385.5 762.8 386.9 764.0C388.2 765.2 389.6 766.3 390.9 767.4C392.3 768.4 393.6 770.1 395.0 770.3C396.3 770.5 397.7 769.9 399.0 768.5C400.4 767.1 401.7 764.3 403.1 762.0C404.4 759.8 405.8 757.5 407.1 755.1C408.5 752.7 409.8 749.7 411.2 747.6C412.5 745.4 413.9 743.7 415.2 742.2C416.6 740.6 417.9 739.7 419.3 738.4C420.7 737.0 422.0 735.7 423.4 734.4C424.7 733.0 426.1 731.5 427.4 730.1C428.8 728.7 430.1 727.5 431.5 726.0C432.8 724.5 434.2 722.3 435.5 721.0C436.9 719.6 438.2 718.8 439.6 717.8C440.9 716.7 442.3 715.8 443.6 715.0C445.0 714.1 446.3 713.5 447.7 712.5C449.0 711.5 450.4 710.0 451.7 708.8C453.1 707.6 454.4 706.6 455.8 705.3C457.1 704.1 458.5 702.5 459.8 701.3C461.2 700.2 462.5 699.4 463.9 698.5C465.2 697.5 466.6 696.5 467.9 695.5C469.3 694.6 470.6 693.5 472.0 692.5C473.3 691.5 474.7 690.2 476.0 689.6C477.4 689.0 478.7 688.9 480.1 688.9C481.4 689.0 482.8 689.6 484.1 690.1C485.5 690.7 486.8 691.7 488.2 692.5C489.6 693.3 490.9 694.4 492.3 695.1C493.6 695.7 495.0 695.9 496.3 696.3C497.7 696.6 499.0 696.9 500.4 697.3C501.7 697.6 503.1 698.2 504.4 698.5C505.8 698.8 507.1 698.9 508.5 699.0C509.8 699.2 511.2 699.2 512.5 699.6C513.9 700.1 515.2 701.3 516.6 701.7C517.9 702.2 519.3 702.4 520.6 702.4C522.0 702.4 523.3 702.1 524.7 701.8C526.0 701.5 527.4 700.9 528.7 700.5C530.1 700.2 531.4 700.2 532.8 699.9C534.1 699.7 535.5 699.3 536.8 699.0C538.2 698.8 539.5 698.9 540.9 698.5C542.2 698.2 543.6 697.7 544.9 697.2C546.3 696.7 547.6 695.9 549.0 695.5C550.3 695.0 551.7 694.9 553.0 694.5C554.4 694.0 555.8 693.2 557.1 692.7C558.5 692.3 559.8 692.1 561.2 691.9C562.5 691.7 563.9 691.7 565.2 691.5C566.6 691.3 567.9 690.7 569.3 690.5C570.6 690.4 572.0 690.6 573.3 690.5C574.7 690.5 576.0 690.5 577.4 690.2C578.7 690.0 580.1 689.3 581.4 688.8C582.8 688.3 584.1 687.5 585.5 687.0C586.8 686.6 588.2 686.5 589.5 686.1C590.9 685.8 592.2 685.5 593.6 685.0C594.9 684.6 596.3 684.0 597.6 683.4C599.0 682.9 600.3 682.2 601.7 681.6C603.0 681.0 604.4 680.2 605.7 679.8C607.1 679.4 608.4 679.3 609.8 679.2C611.1 679.1 612.5 679.3 613.8 679.3C615.2 679.3 616.5 679.4 617.9 679.3C619.2 679.2 620.6 679.0 622.0 678.8C623.3 678.7 624.7 678.4 626.0 678.4C627.4 678.4 628.7 678.4 630.1 678.7C631.4 679.0 632.8 679.5 634.1 680.0C635.5 680.6 636.8 681.7 638.2 682.1C639.5 682.6 640.9 682.6 642.2 682.8C643.6 683.1 644.9 683.2 646.3 683.4C647.6 683.6 649.0 683.7 650.3 683.8C651.7 683.8 653.0 683.8 654.4 683.8C655.7 683.8 657.1 683.8 658.4 683.9C659.8 683.9 661.1 684.1 662.5 684.2C663.8 684.4 665.2 684.6 666.5 684.6C667.9 684.7 669.2 684.7 670.6 684.6C671.9 684.6 673.3 685.1 674.6 684.6C676.0 684.2 677.3 683.3 678.7 682.0C680.0 680.6 681.4 678.5 682.7 676.8C684.1 675.0 685.4 673.5 686.8 671.4C688.1 669.4 689.5 666.3 690.9 664.4C692.2 662.5 693.6 661.5 694.9 660.0C696.3 658.6 697.6 656.8 699.0 655.6C700.3 654.3 701.7 653.7 703.0 652.6C704.4 651.6 705.7 650.5 707.1 649.4C708.4 648.3 709.8 647.1 711.1 646.0C712.5 644.8 713.8 643.7 715.2 642.5C716.5 641.4 717.9 640.0 719.2 638.9C720.6 637.7 721.9 636.6 723.3 635.6C724.6 634.5 726.0 633.6 727.3 632.5C728.7 631.4 730.0 630.1 731.4 628.7C732.7 627.4 734.1 626.0 735.4 624.5C736.8 622.9 738.1 621.3 739.5 619.4C740.8 617.5 742.2 615.1 743.5 613.1C744.9 611.2 746.2 609.8 747.6 607.7C748.9 605.7 750.3 602.8 751.6 600.9C753.0 598.9 754.3 597.0 755.7 596.0C757.0 594.9 758.4 594.4 759.8 594.4C761.1 594.5 762.5 595.4 763.8 596.1C765.2 596.7 766.5 597.4 767.9 598.5C769.2 599.6 770.6 601.8 771.9 602.7C773.3 603.5 774.6 603.1 776.0 603.5C777.3 604.0 778.7 604.9 780.0 605.4C781.4 605.9 782.7 606.1 784.1 606.4C785.4 606.7 786.8 606.9 788.1 607.4C789.5 607.9 790.8 608.8 792.2 609.1C793.5 609.4 794.9 609.1 796.2 609.2C797.6 609.3 798.9 609.5 800.3 609.9C801.6 610.2 803.0 610.7 804.3 611.1C805.7 611.4 807.0 611.6 808.4 612.1C809.7 612.6 811.1 613.5 812.4 614.2C813.8 615.0 815.1 615.5 816.5 616.3C817.8 617.1 819.2 618.0 820.5 619.1C821.9 620.3 823.2 622.0 824.6 623.4C826.0 624.8 827.3 626.1 828.7 627.7C830.0 629.2 831.4 631.3 832.7 632.8C834.1 634.3 835.4 635.3 836.8 636.6C838.1 637.8 839.5 639.2 840.8 640.2C842.2 641.3 843.5 642.3 844.9 643.2C846.2 644.1 847.6 644.9 848.9 645.7C850.3 646.5 851.6 647.4 853.0 648.1C854.3 648.9 855.7 649.7 857.0 650.2C858.4 650.7 859.7 650.8 861.1 651.1C862.4 651.4 863.8 651.6 865.1 651.9C866.5 652.1 867.8 652.5 869.2 652.7C870.5 652.9 871.9 652.7 873.2 652.9C874.6 653.1 875.9 653.7 877.3 653.8C878.6 653.9 880.0 653.7 881.3 653.6C882.7 653.5 884.0 653.2 885.4 653.0C886.7 652.8 888.1 652.8 889.4 652.5C890.8 652.2 892.1 651.6 893.5 651.4C894.9 651.1 896.2 651.1 897.6 651.0C898.9 650.9 900.3 650.9 901.6 650.7C903.0 650.5 904.3 650.3 905.7 649.8C907.0 649.3 908.4 648.3 909.7 647.9C911.1 647.4 912.4 647.5 913.8 647.1C915.1 646.6 916.5 645.9 917.8 645.3C919.2 644.6 920.5 643.7 921.9 643.1C923.2 642.4 924.6 641.8 925.9 641.4C927.3 640.9 928.6 640.8 930.0 640.6C931.3 640.5 932.7 640.4 934.0 640.4C935.4 640.5 936.7 640.4 938.1 640.9C939.4 641.3 940.8 642.5 942.1 643.1C943.5 643.7 944.8 644.0 946.2 644.4C947.5 644.8 948.9 645.2 950.2 645.7C951.6 646.2 952.9 646.8 954.3 647.3C955.6 647.7 957.0 648.0 958.3 648.4C959.7 648.8 961.1 649.3 962.4 649.7C963.8 650.1 965.1 650.4 966.5 650.9C967.8 651.4 969.2 651.9 970.5 652.6C971.9 653.2 973.2 654.1 974.6 654.9C975.9 655.7 977.3 656.7 978.6 657.4C980.0 658.2 981.3 658.7 982.7 659.3C984.0 659.9 985.4 660.4 986.7 661.2C988.1 661.9 989.4 663.0 990.8 663.8C992.1 664.6 993.5 665.0 994.8 665.9C996.2 666.8 997.5 668.0 998.9 669.1C1000.2 670.1 1001.6 671.1 1002.9 672.0C1004.3 673.0 1005.6 673.8 1007.0 674.7C1008.3 675.6 1009.7 676.6 1011.0 677.6C1012.4 678.6 1013.7 679.8 1015.1 680.7C1016.4 681.6 1017.8 682.2 1019.1 682.7C1020.5 683.3 1021.8 683.4 1023.2 683.9C1024.5 684.4 1025.9 685.2 1027.2 685.8C1028.6 686.5 1030.0 687.6 1031.3 688.1C1032.7 688.6 1034.0 688.7 1035.4 689.0C1036.7 689.2 1038.1 689.2 1039.4 689.5C1040.8 689.9 1042.1 690.5 1043.5 691.0C1044.8 691.5 1046.2 692.1 1047.5 692.6C1048.9 693.0 1050.2 693.3 1051.6 693.7C1052.9 694.0 1054.9 694.5 1055.6 694.7"/><path fill="#13856a" d="M17.15 675.0h1.8V704.2h-1.8zM16.55 675.8h3.0V694.2h-3.0zM21.21 691.7h1.8V713.0h-1.8zM20.61 697.5h3.0V710.8h-3.0zM25.26 705.8h1.8V721.7h-1.8zM24.66 708.3h3.0V716.7h-3.0zM29.31 715.8h1.8V744.2h-1.8zM28.71 715.8h3.0V744.2h-3.0zM33.37 737.5h1.8V751.2h-1.8zM32.77 740.8h3.0V750.0h-3.0zM45.52 740.8h1.8V766.2h-1.8zM44.92 741.3h3.0V763.3h-3.0zM53.63 753.3h1.8V767.5h-1.8zM53.03 754.7h3.0V759.2h-3.0zM61.74 740.5h1.8V748.7h-1.8zM61.14 740.8h3.0V748.0h-3.0zM69.84 744.2h1.8V761.7h-1.8zM69.24 748.3h3.0V757.5h-3.0zM73.89 752.5h1.8V771.7h-1.8zM73.30 755.0h3.0V768.3h-3.0zM77.95 763.3h1.8V788.0h-1.8zM77.35 766.7h3.0V785.8h-3.0zM98.21 764.7h1.8V776.2h-1.8zM97.61 765.8h3.0V775.8h-3.0zM110.37 755.5h1.8V760.8h-1.8zM109.77 756.2h3.0V759.7h-3.0zM114.42 750.8h1.8V763.3h-1.8zM113.83 755.0h3.0V761.7h-3.0zM126.58 743.8h1.8V752.8h-1.8zM125.98 744.3h3.0V746.7h-3.0zM134.69 742.5h1.8V753.3h-1.8zM134.09 745.8h3.0V752.0h-3.0zM142.80 746.3h1.8V760.0h-1.8zM142.20 750.8h3.0V759.5h-3.0zM191.43 689.2h1.8V700.0h-1.8zM190.83 690.8h3.0V695.0h-3.0zM199.54 688.8h1.8V704.2h-1.8zM198.94 689.2h3.0V700.0h-3.0zM215.75 646.3h1.8V678.3h-1.8zM215.15 658.3h3.0V675.0h-3.0zM219.80 652.5h1.8V676.7h-1.8zM219.20 665.0h3.0V673.3h-3.0zM227.91 678.3h1.8V693.0h-1.8zM227.31 679.2h3.0V685.8h-3.0zM231.96 677.5h1.8V686.7h-1.8zM231.36 678.3h3.0V685.0h-3.0zM236.01 685.8h1.8V696.7h-1.8zM235.41 686.7h3.0V693.3h-3.0zM244.12 692.5h1.8V706.3h-1.8zM243.52 693.3h3.0V700.0h-3.0zM252.23 695.0h1.8V713.3h-1.8zM251.63 698.3h3.0V709.2h-3.0zM268.44 683.0h1.8V691.7h-1.8zM267.84 683.7h3.0V690.8h-3.0zM276.55 682.5h1.8V694.7h-1.8zM275.94 683.3h3.0V693.3h-3.0zM280.60 695.0h1.8V733.3h-1.8zM280.00 695.8h3.0V721.7h-3.0zM292.76 678.0h1.8V695.0h-1.8zM292.16 682.5h3.0V691.7h-3.0zM296.81 684.2h1.8V702.0h-1.8zM296.21 685.3h3.0V700.8h-3.0zM308.97 673.7h1.8V691.7h-1.8zM308.37 682.5h3.0V687.0h-3.0zM313.02 685.8h1.8V711.7h-1.8zM312.42 693.3h3.0V698.3h-3.0zM317.08 725.8h1.8V746.7h-1.8zM316.48 730.0h3.0V745.8h-3.0zM321.13 756.3h1.8V791.3h-1.8zM320.53 775.0h3.0V790.8h-3.0zM329.23 770.0h1.8V783.0h-1.8zM328.63 770.8h3.0V782.5h-3.0zM345.45 769.7h1.8V788.0h-1.8zM344.85 771.7h3.0V782.5h-3.0zM361.66 766.3h1.8V773.3h-1.8zM361.06 767.0h3.0V771.7h-3.0zM369.76 756.7h1.8V767.0h-1.8zM369.16 757.5h3.0V765.8h-3.0zM373.82 763.0h1.8V769.2h-1.8zM373.22 764.2h3.0V767.0h-3.0zM377.87 761.7h1.8V774.2h-1.8zM377.27 763.3h3.0V772.5h-3.0zM394.08 748.0h1.8V758.0h-1.8zM393.48 750.8h3.0V756.7h-3.0zM406.24 606.3h1.8V650.3h-1.8zM405.64 639.2h3.0V650.0h-3.0zM414.35 634.2h1.8V668.7h-1.8zM413.75 660.0h3.0V668.3h-3.0zM418.40 671.3h1.8V696.7h-1.8zM417.80 672.0h3.0V693.3h-3.0zM426.51 680.8h1.8V700.8h-1.8zM425.91 687.5h3.0V696.7h-3.0zM430.56 683.3h1.8V700.0h-1.8zM429.96 689.2h3.0V696.7h-3.0zM438.67 683.3h1.8V705.0h-1.8zM438.06 685.8h3.0V704.2h-3.0zM442.72 699.2h1.8V718.3h-1.8zM442.12 706.7h3.0V715.8h-3.0zM454.88 687.2h1.8V699.2h-1.8zM454.28 688.3h3.0V696.7h-3.0zM462.98 692.0h1.8V711.3h-1.8zM462.38 693.3h3.0V710.8h-3.0zM487.30 677.5h1.8V700.0h-1.8zM486.70 684.2h3.0V696.7h-3.0zM495.41 685.3h1.8V693.3h-1.8zM494.81 686.3h3.0V692.5h-3.0zM499.46 696.7h1.8V713.7h-1.8zM498.86 697.5h3.0V713.0h-3.0zM515.67 692.5h1.8V719.7h-1.8zM515.07 710.0h3.0V718.3h-3.0zM539.99 669.2h1.8V684.2h-1.8zM539.39 678.3h3.0V682.5h-3.0zM544.04 678.0h1.8V685.0h-1.8zM543.44 680.0h3.0V683.3h-3.0zM560.25 669.7h1.8V680.8h-1.8zM559.65 670.8h3.0V679.2h-3.0zM572.41 671.7h1.8V685.0h-1.8zM571.81 672.8h3.0V683.3h-3.0zM576.47 678.3h1.8V688.7h-1.8zM575.87 680.8h3.0V686.7h-3.0zM588.63 677.5h1.8V696.3h-1.8zM588.03 678.3h3.0V690.0h-3.0zM608.89 664.2h1.8V675.8h-1.8zM608.29 666.7h3.0V670.8h-3.0zM612.94 670.0h1.8V683.0h-1.8zM612.34 671.7h3.0V681.7h-3.0zM621.05 665.5h1.8V678.3h-1.8zM620.45 667.0h3.0V673.3h-3.0zM625.10 670.8h1.8V676.7h-1.8zM624.50 671.7h3.0V675.0h-3.0zM629.16 672.0h1.8V682.0h-1.8zM628.56 674.2h3.0V680.0h-3.0zM633.21 678.0h1.8V707.5h-1.8zM632.61 679.2h3.0V700.8h-3.0zM637.26 696.7h1.8V706.2h-1.8zM636.66 702.5h3.0V705.0h-3.0zM657.53 682.0h1.8V690.0h-1.8zM656.93 683.3h3.0V688.3h-3.0zM661.58 686.7h1.8V693.7h-1.8zM660.98 688.3h3.0V691.7h-3.0zM669.69 683.3h1.8V695.3h-1.8zM669.09 684.2h3.0V690.0h-3.0zM685.90 535.8h1.8V590.8h-1.8zM685.30 549.2h3.0V560.8h-3.0zM694.00 553.3h1.8V595.8h-1.8zM693.40 555.8h3.0V595.0h-3.0zM702.11 603.3h1.8V615.0h-1.8zM701.51 603.8h3.0V614.2h-3.0zM706.16 603.3h1.8V616.3h-1.8zM705.56 603.8h3.0V610.8h-3.0zM714.27 612.5h1.8V633.7h-1.8zM713.67 613.3h3.0V632.5h-3.0zM746.69 563.3h1.8V596.7h-1.8zM746.09 564.7h3.0V577.5h-3.0zM754.80 568.0h1.8V588.3h-1.8zM754.20 569.2h3.0V586.7h-3.0zM758.85 590.5h1.8V620.0h-1.8zM758.25 591.7h3.0V603.3h-3.0zM762.90 595.3h1.8V616.7h-1.8zM762.30 605.0h3.0V610.0h-3.0zM771.01 605.8h1.8V620.3h-1.8zM770.41 607.5h3.0V613.3h-3.0zM779.12 612.5h1.8V634.2h-1.8zM778.52 613.3h3.0V627.5h-3.0zM783.17 624.2h1.8V636.7h-1.8zM782.57 626.7h3.0V634.2h-3.0zM791.28 630.0h1.8V658.0h-1.8zM790.68 630.8h3.0V645.8h-3.0zM799.38 634.7h1.8V645.3h-1.8zM798.78 635.8h3.0V644.2h-3.0zM803.44 642.5h1.8V652.5h-1.8zM802.84 643.3h3.0V651.7h-3.0zM811.54 645.0h1.8V652.2h-1.8zM810.94 649.2h3.0V651.7h-3.0zM827.75 645.3h1.8V665.0h-1.8zM827.15 650.8h3.0V663.3h-3.0zM835.86 654.2h1.8V663.7h-1.8zM835.26 655.0h3.0V662.5h-3.0zM839.91 660.5h1.8V678.3h-1.8zM839.31 661.7h3.0V676.7h-3.0zM864.23 640.8h1.8V652.5h-1.8zM863.63 642.5h3.0V650.0h-3.0zM876.39 643.0h1.8V653.3h-1.8zM875.79 647.5h3.0V652.5h-3.0zM896.65 628.7h1.8V637.0h-1.8zM896.05 629.7h3.0V633.3h-3.0zM900.71 633.3h1.8V638.3h-1.8zM900.11 634.2h3.0V636.7h-3.0zM912.87 623.3h1.8V642.5h-1.8zM912.27 624.2h3.0V639.2h-3.0zM920.97 626.7h1.8V633.7h-1.8zM920.37 628.3h3.0V632.5h-3.0zM925.02 630.0h1.8V640.0h-1.8zM924.42 630.8h3.0V634.2h-3.0zM929.08 633.0h1.8V650.0h-1.8zM928.48 634.2h3.0V646.7h-3.0zM933.13 641.7h1.8V661.7h-1.8zM932.53 647.5h3.0V657.5h-3.0zM937.18 647.5h1.8V663.0h-1.8zM936.58 648.3h3.0V660.8h-3.0zM941.24 659.7h1.8V692.0h-1.8zM940.64 660.8h3.0V690.8h-3.0zM949.34 665.8h1.8V675.8h-1.8zM948.74 670.0h3.0V673.3h-3.0zM953.40 663.0h1.8V683.0h-1.8zM952.80 666.7h3.0V681.7h-3.0zM969.61 665.3h1.8V673.9h-1.8zM969.01 666.1h3.0V672.2h-3.0zM973.66 665.3h1.8V676.7h-1.8zM973.06 667.2h3.0V675.0h-3.0zM977.71 673.1h1.8V685.8h-1.8zM977.11 673.3h3.0V684.4h-3.0zM989.87 670.0h1.8V678.3h-1.8zM989.27 671.7h3.0V677.2h-3.0zM993.93 671.3h1.8V682.2h-1.8zM993.33 673.3h3.0V680.6h-3.0zM997.98 678.3h1.8V690.6h-1.8zM997.38 678.9h3.0V690.0h-3.0zM1002.03 682.2h1.8V692.8h-1.8zM1001.43 682.8h3.0V691.7h-3.0zM1010.14 692.2h1.8V708.9h-1.8zM1009.54 692.8h3.0V704.4h-3.0zM1014.19 702.2h1.8V720.6h-1.8zM1013.59 703.3h3.0V719.4h-3.0zM1022.30 706.7h1.8V723.1h-1.8zM1021.70 711.7h3.0V713.9h-3.0zM1026.35 706.4h1.8V715.8h-1.8zM1025.75 707.8h3.0V715.0h-3.0zM1030.40 712.2h1.8V721.7h-1.8zM1029.80 716.1h3.0V717.8h-3.0zM1042.56 687.6h1.8V696.7h-1.8zM1041.96 688.0h3.0V695.6h-3.0zM1046.61 685.8h1.8V696.1h-1.8zM1046.01 690.6h3.0V693.3h-3.0zM1050.67 688.3h1.8V697.2h-1.8zM1050.07 691.3h3.0V694.4h-3.0zM1054.72 690.6h1.8V703.3h-1.8zM1054.12 691.1h3.0V695.6h-3.0z"/><path fill="#d71f32" d="M13.10 669.2h1.8V686.7h-1.8zM12.50 675.0h3.0V686.7h-3.0zM37.42 744.2h1.8V756.7h-1.8zM36.82 747.5h3.0V751.7h-3.0zM41.47 738.3h1.8V747.5h-1.8zM40.87 740.0h3.0V746.7h-3.0zM49.58 753.3h1.8V761.7h-1.8zM48.98 754.2h3.0V760.8h-3.0zM57.68 742.2h1.8V762.0h-1.8zM57.08 743.3h3.0V761.3h-3.0zM65.79 744.2h1.8V756.7h-1.8zM65.19 747.0h3.0V752.0h-3.0zM82.00 775.8h1.8V798.3h-1.8zM81.40 780.0h3.0V785.0h-3.0zM86.05 768.3h1.8V782.5h-1.8zM85.45 769.2h3.0V780.8h-3.0zM90.11 767.5h1.8V779.2h-1.8zM89.51 768.3h3.0V774.2h-3.0zM94.16 765.0h1.8V771.7h-1.8zM93.56 766.3h3.0V770.0h-3.0zM102.27 772.5h1.8V788.3h-1.8zM101.67 775.8h3.0V780.0h-3.0zM106.32 755.0h1.8V774.2h-1.8zM105.72 755.8h3.0V772.5h-3.0zM118.48 757.5h1.8V763.0h-1.8zM117.88 758.3h3.0V762.0h-3.0zM122.53 743.0h1.8V757.5h-1.8zM121.93 745.8h3.0V755.8h-3.0zM130.64 745.0h1.8V753.0h-1.8zM130.04 748.3h3.0V752.0h-3.0zM138.74 749.2h1.8V756.7h-1.8zM138.14 750.0h3.0V755.3h-3.0zM146.85 753.3h1.8V760.0h-1.8zM146.25 754.2h3.0V759.2h-3.0zM150.90 747.5h1.8V758.3h-1.8zM150.30 748.3h3.0V756.7h-3.0zM154.95 739.7h1.8V749.7h-1.8zM154.35 744.2h3.0V748.3h-3.0zM159.01 741.7h1.8V748.3h-1.8zM158.41 742.5h3.0V747.5h-3.0zM163.06 740.0h1.8V745.8h-1.8zM162.46 740.8h3.0V744.2h-3.0zM167.11 735.8h1.8V741.7h-1.8zM166.51 736.7h3.0V740.8h-3.0zM171.17 725.8h1.8V738.3h-1.8zM170.57 726.7h3.0V737.5h-3.0zM175.22 721.3h1.8V735.0h-1.8zM174.62 728.3h3.0V734.2h-3.0zM179.27 720.3h1.8V737.0h-1.8zM178.67 720.8h3.0V733.3h-3.0zM183.33 673.3h1.8V716.7h-1.8zM182.73 705.0h3.0V710.0h-3.0zM187.38 674.7h1.8V718.3h-1.8zM186.78 678.3h3.0V715.0h-3.0zM195.48 669.7h1.8V691.7h-1.8zM194.88 682.5h3.0V690.0h-3.0zM203.59 696.7h1.8V712.0h-1.8zM202.99 700.8h3.0V709.2h-3.0zM207.64 663.7h1.8V699.2h-1.8zM207.04 670.0h3.0V698.3h-3.0zM211.70 633.0h1.8V670.0h-1.8zM211.10 651.7h3.0V669.2h-3.0zM223.86 674.2h1.8V690.0h-1.8zM223.26 675.8h3.0V683.3h-3.0zM240.07 685.0h1.8V693.0h-1.8zM239.47 687.5h3.0V691.7h-3.0zM248.17 688.3h1.8V700.8h-1.8zM247.57 692.5h3.0V699.2h-3.0zM256.28 703.3h1.8V718.3h-1.8zM255.68 705.0h3.0V710.0h-3.0zM260.33 682.2h1.8V718.0h-1.8zM259.73 687.5h3.0V702.5h-3.0zM264.39 676.3h1.8V690.3h-1.8zM263.79 685.0h3.0V689.2h-3.0zM272.49 680.0h1.8V690.8h-1.8zM271.89 682.5h3.0V689.2h-3.0zM284.65 715.8h1.8V731.7h-1.8zM284.05 720.0h3.0V724.2h-3.0zM288.70 672.2h1.8V720.3h-1.8zM288.10 673.0h3.0V719.7h-3.0zM300.86 696.7h1.8V720.0h-1.8zM300.26 705.0h3.0V709.2h-3.0zM304.92 676.3h1.8V711.3h-1.8zM304.32 686.7h3.0V700.0h-3.0zM325.18 786.7h1.8V831.2h-1.8zM324.58 788.3h3.0V797.5h-3.0zM333.29 775.3h1.8V787.5h-1.8zM332.69 775.8h3.0V786.7h-3.0zM337.34 765.0h1.8V775.8h-1.8zM336.74 770.0h3.0V775.0h-3.0zM341.39 761.3h1.8V775.8h-1.8zM340.79 767.5h3.0V775.0h-3.0zM349.50 775.8h1.8V787.5h-1.8zM348.90 778.3h3.0V785.0h-3.0zM353.55 773.3h1.8V782.5h-1.8zM352.95 776.7h3.0V781.3h-3.0zM357.61 768.0h1.8V780.8h-1.8zM357.00 768.7h3.0V780.0h-3.0zM365.71 755.8h1.8V767.5h-1.8zM365.11 756.7h3.0V766.7h-3.0zM381.92 765.8h1.8V779.2h-1.8zM381.32 767.5h3.0V777.5h-3.0zM385.98 765.8h1.8V771.7h-1.8zM385.38 766.7h3.0V770.8h-3.0zM390.03 754.2h1.8V764.2h-1.8zM389.43 754.7h3.0V763.3h-3.0zM398.13 708.7h1.8V753.3h-1.8zM397.53 710.0h3.0V752.5h-3.0zM402.19 660.0h1.8V704.2h-1.8zM401.59 660.8h3.0V700.0h-3.0zM410.29 619.2h1.8V672.5h-1.8zM409.69 631.7h3.0V648.3h-3.0zM422.45 679.2h1.8V694.2h-1.8zM421.85 687.5h3.0V692.5h-3.0zM434.61 669.2h1.8V708.3h-1.8zM434.01 676.7h3.0V696.7h-3.0zM446.77 701.7h1.8V721.7h-1.8zM446.17 707.5h3.0V716.7h-3.0zM450.82 689.2h1.8V711.7h-1.8zM450.22 692.5h3.0V708.3h-3.0zM458.93 682.2h1.8V706.7h-1.8zM458.33 692.5h3.0V700.0h-3.0zM467.04 706.7h1.8V713.0h-1.8zM466.44 708.0h3.0V710.8h-3.0zM471.09 690.8h1.8V711.3h-1.8zM470.49 694.2h3.0V707.5h-3.0zM475.14 696.7h1.8V704.2h-1.8zM474.54 698.3h3.0V703.0h-3.0zM479.19 692.2h1.8V706.3h-1.8zM478.59 696.7h3.0V703.3h-3.0zM483.25 681.7h1.8V700.0h-1.8zM482.65 685.0h3.0V698.3h-3.0zM491.35 677.5h1.8V692.0h-1.8zM490.75 683.3h3.0V690.8h-3.0zM503.51 708.0h1.8V718.7h-1.8zM502.91 712.5h3.0V716.7h-3.0zM507.57 703.8h1.8V715.3h-1.8zM506.97 707.5h3.0V713.3h-3.0zM511.62 705.0h1.8V718.3h-1.8zM511.02 708.3h3.0V712.5h-3.0zM519.73 698.3h1.8V720.8h-1.8zM519.12 717.5h3.0V720.0h-3.0zM523.78 703.0h1.8V727.0h-1.8zM523.18 704.2h3.0V721.7h-3.0zM527.83 681.7h1.8V705.8h-1.8zM527.23 682.5h3.0V705.0h-3.0zM531.88 670.5h1.8V685.3h-1.8zM531.28 680.0h3.0V683.3h-3.0zM535.94 666.2h1.8V683.0h-1.8zM535.34 679.2h3.0V682.5h-3.0zM548.10 660.0h1.8V692.5h-1.8zM547.50 674.2h3.0V682.5h-3.0zM552.15 670.0h1.8V680.8h-1.8zM551.55 674.2h3.0V677.5h-3.0zM556.20 658.0h1.8V678.3h-1.8zM555.60 663.3h3.0V671.7h-3.0zM564.31 677.0h1.8V684.2h-1.8zM563.71 678.0h3.0V682.5h-3.0zM568.36 676.3h1.8V682.5h-1.8zM567.76 677.2h3.0V680.8h-3.0zM580.52 682.5h1.8V690.0h-1.8zM579.92 684.2h3.0V688.3h-3.0zM584.57 675.8h1.8V684.2h-1.8zM583.97 676.7h3.0V682.5h-3.0zM592.68 683.3h1.8V691.7h-1.8zM592.08 685.8h3.0V690.8h-3.0zM596.73 685.3h1.8V692.0h-1.8zM596.13 686.7h3.0V690.0h-3.0zM600.78 680.0h1.8V688.7h-1.8zM600.18 681.7h3.0V687.5h-3.0zM604.84 666.3h1.8V688.3h-1.8zM604.24 667.5h3.0V685.8h-3.0zM617.00 677.5h1.8V684.2h-1.8zM616.40 679.2h3.0V682.5h-3.0zM641.32 688.0h1.8V705.8h-1.8zM640.72 693.3h3.0V704.2h-3.0zM645.37 688.3h1.8V703.7h-1.8zM644.77 689.2h3.0V701.7h-3.0zM649.42 683.3h1.8V690.0h-1.8zM648.82 684.2h3.0V688.3h-3.0zM653.47 683.0h1.8V688.0h-1.8zM652.87 683.8h3.0V686.7h-3.0zM665.63 680.0h1.8V690.5h-1.8zM665.03 685.0h3.0V689.2h-3.0zM673.74 676.7h1.8V690.5h-1.8zM673.14 685.0h3.0V689.2h-3.0zM677.79 633.0h1.8V672.5h-1.8zM677.19 633.7h3.0V671.7h-3.0zM681.85 576.7h1.8V615.8h-1.8zM681.25 577.5h3.0V612.5h-3.0zM689.95 501.3h1.8V597.5h-1.8zM689.35 530.0h3.0V588.3h-3.0zM698.06 585.0h1.8V618.3h-1.8zM697.46 590.0h3.0V601.7h-3.0zM710.22 609.2h1.8V619.2h-1.8zM709.62 610.8h3.0V614.2h-3.0zM718.32 629.7h1.8V653.0h-1.8zM717.72 631.7h3.0V645.0h-3.0zM722.38 624.7h1.8V642.5h-1.8zM721.77 627.5h3.0V638.3h-3.0zM726.43 626.7h1.8V639.2h-1.8zM725.83 627.5h3.0V631.7h-3.0zM730.48 608.0h1.8V633.0h-1.8zM729.88 608.7h3.0V628.3h-3.0zM734.53 572.0h1.8V616.7h-1.8zM733.93 599.2h3.0V606.7h-3.0zM738.59 573.8h1.8V616.7h-1.8zM737.99 586.7h3.0V614.2h-3.0zM742.64 560.0h1.8V601.7h-1.8zM742.04 565.8h3.0V596.7h-3.0zM750.75 550.0h1.8V597.5h-1.8zM750.15 552.5h3.0V580.0h-3.0zM766.96 602.0h1.8V617.5h-1.8zM766.36 610.0h3.0V614.2h-3.0zM775.06 607.2h1.8V623.3h-1.8zM774.46 611.7h3.0V615.8h-3.0zM787.22 629.7h1.8V637.5h-1.8zM786.62 630.8h3.0V635.0h-3.0zM795.33 633.3h1.8V653.7h-1.8zM794.73 634.2h3.0V651.7h-3.0zM807.49 643.3h1.8V655.8h-1.8zM806.89 648.3h3.0V653.3h-3.0zM815.59 639.2h1.8V652.0h-1.8zM814.99 640.8h3.0V648.3h-3.0zM819.65 638.0h1.8V646.7h-1.8zM819.05 642.5h3.0V645.8h-3.0zM823.70 650.0h1.8V677.5h-1.8zM823.10 650.8h3.0V666.7h-3.0zM831.81 654.2h1.8V666.7h-1.8zM831.21 655.0h3.0V661.7h-3.0zM843.97 667.5h1.8V673.7h-1.8zM843.37 668.3h3.0V672.5h-3.0zM848.02 659.7h1.8V670.0h-1.8zM847.42 660.8h3.0V666.7h-3.0zM852.07 657.0h1.8V664.2h-1.8zM851.47 661.7h3.0V663.3h-3.0zM856.12 651.7h1.8V665.0h-1.8zM855.52 652.5h3.0V662.5h-3.0zM860.18 643.0h1.8V654.2h-1.8zM859.58 645.8h3.0V652.5h-3.0zM868.28 645.0h1.8V652.5h-1.8zM867.68 647.5h3.0V650.8h-3.0zM872.34 648.3h1.8V655.3h-1.8zM871.74 649.7h3.0V653.3h-3.0zM880.44 635.0h1.8V653.0h-1.8zM879.84 640.0h3.0V651.7h-3.0zM884.50 637.5h1.8V645.8h-1.8zM883.89 639.2h3.0V644.2h-3.0zM888.55 637.5h1.8V643.7h-1.8zM887.95 638.7h3.0V642.5h-3.0zM892.60 628.0h1.8V648.7h-1.8zM892.00 628.7h3.0V644.2h-3.0zM904.76 631.7h1.8V638.0h-1.8zM904.16 633.3h3.0V636.7h-3.0zM908.81 621.7h1.8V635.3h-1.8zM908.21 624.2h3.0V633.3h-3.0zM916.92 615.0h1.8V640.8h-1.8zM916.32 626.7h3.0V639.2h-3.0zM945.29 675.0h1.8V740.8h-1.8zM944.69 675.8h3.0V686.7h-3.0zM957.45 670.3h1.8V683.7h-1.8zM956.85 675.0h3.0V681.7h-3.0zM961.50 665.0h1.8V676.7h-1.8zM960.90 665.8h3.0V675.0h-3.0zM965.56 658.3h1.8V668.3h-1.8zM964.96 662.8h3.0V667.2h-3.0zM981.77 673.3h1.8V688.3h-1.8zM981.17 673.9h3.0V684.4h-3.0zM985.82 670.6h1.8V677.8h-1.8zM985.22 671.1h3.0V674.4h-3.0zM1006.09 686.9h1.8V696.7h-1.8zM1005.49 687.8h3.0V695.6h-3.0zM1018.24 700.6h1.8V712.2h-1.8zM1017.64 701.7h3.0V710.0h-3.0zM1034.46 698.9h1.8V716.9h-1.8zM1033.86 699.4h3.0V715.6h-3.0zM1038.51 685.8h1.8V706.1h-1.8zM1037.91 686.7h3.0V698.3h-3.0z"/></g><path d="M690.9 501.3H604.5" stroke="#3b3f50" stroke-width="1.4" fill="none"/><circle cx="604.5" cy="501.3" r="2.5" fill="#3b3f50"/><path d="M326.1 831.2H411.7" stroke="#3b3f50" stroke-width="1.4" fill="none"/><circle cx="411.7" cy="831.2" r="2.5" fill="#3b3f50"/><circle cx="382.6" cy="839.4" r="4.3" fill="#f4692f"/><circle cx="877" cy="839.4" r="4.3" fill="#f4692f"/></svg>
<div class="t" style="left:14.30px;top:502.07px;font-size:20px;line-height:20px;color:#b8bbc8;">14.90</div>
<div class="t" style="left:14.30px;top:655.47px;font-size:20px;line-height:20px;color:#b8bbc8;">11.34</div>
<div class="t" style="left:14.30px;top:815.67px;font-size:20px;line-height:20px;color:#b8bbc8;">7.77</div>
<div class="t" style="left:551.00px;top:491.27px;font-size:20px;line-height:20px;color:#444859;">14.90</div>
<div class="t" style="left:415.60px;top:820.27px;font-size:20px;line-height:20px;color:#444859;">7.77</div>
<div class="t" style="left:36.00px;top:862.16px;font-size:20.6px;line-height:20.6px;color:#3c3f4f;">2025-01</div>
<div class="t" style="left:267.00px;top:862.16px;font-size:20.6px;line-height:20.6px;color:#3c3f4f;">2025-04</div>
<div class="t" style="left:510.50px;top:862.16px;font-size:20.6px;line-height:20.6px;color:#3c3f4f;">2025-07</div>
<div class="t" style="left:689.50px;top:862.16px;font-size:20.6px;line-height:20.6px;color:#3c3f4f;">2025-09</div>
<div class="t" style="left:928.00px;top:862.16px;font-size:20.6px;line-height:20.6px;color:#3c3f4f;">2025-12</div>
</div>
</body></html>
